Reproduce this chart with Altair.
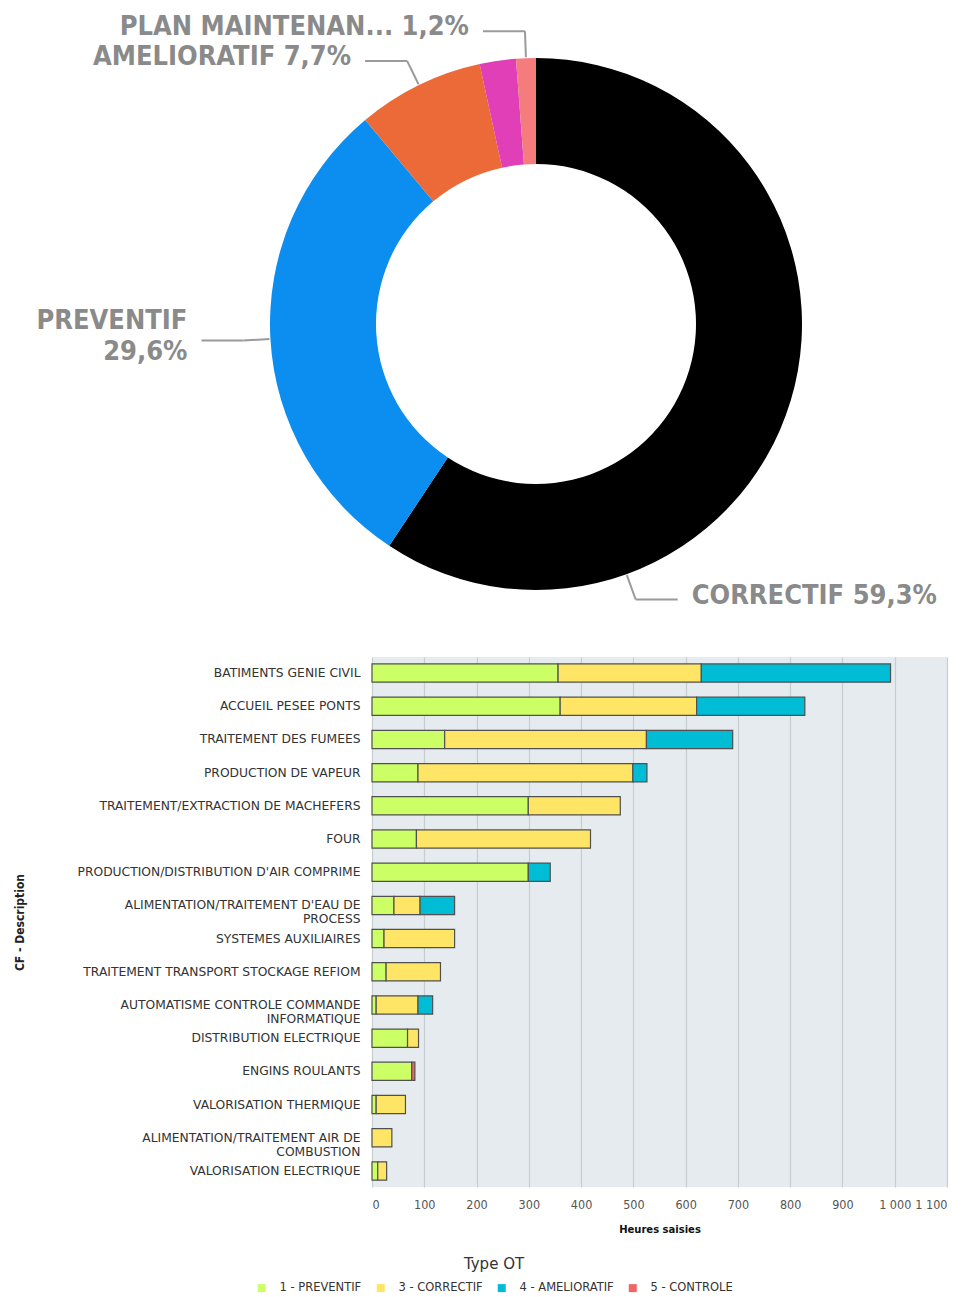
import math
import json
import pandas as pd
import altair as alt

# ---------------- Donut data ----------------
donut_types = ["CORRECTIF", "PREVENTIF", "AMELIORATIF", "CONTROLE", "PLAN MAINTENANCE"]
donut_display = ["CORRECTIF", "PREVENTIF", "AMELIORATIF", "", "PLAN MAINTENAN..."]
donut_pct = [59.3, 29.6, 7.7, 2.2, 1.2]
donut_colors = ["#000000", "#0b8ef0", "#ec6a37", "#e03fb8", "#f47c7c"]

# ---------------- Bar data ----------------
categories = [
    "BATIMENTS GENIE CIVIL",
    "ACCUEIL PESEE PONTS",
    "TRAITEMENT DES FUMEES",
    "PRODUCTION DE VAPEUR",
    "TRAITEMENT/EXTRACTION DE MACHEFERS",
    "FOUR",
    "PRODUCTION/DISTRIBUTION D'AIR COMPRIME",
    "ALIMENTATION/TRAITEMENT D'EAU DE PROCESS",
    "SYSTEMES AUXILIAIRES",
    "TRAITEMENT TRANSPORT STOCKAGE REFIOM",
    "AUTOMATISME CONTROLE COMMANDE INFORMATIQUE",
    "DISTRIBUTION ELECTRIQUE",
    "ENGINS ROULANTS",
    "VALORISATION THERMIQUE",
    "ALIMENTATION/TRAITEMENT AIR DE COMBUSTION",
    "VALORISATION ELECTRIQUE",
]
preventif   = [356, 360, 139, 88, 299, 85, 299, 42, 23, 27, 8, 68, 76, 8, 0, 11]
correctif   = [274, 261, 386, 411, 176, 333, 0, 50, 135, 104, 80, 21, 0, 56, 38, 17]
amelioratif = [362, 207, 165, 27, 0, 0, 42, 66, 0, 0, 28, 0, 0, 0, 0, 0]
controle    = [0, 0, 0, 0, 0, 0, 0, 0, 0, 0, 0, 0, 6, 0, 0, 0]
type_labels = ["1 - PREVENTIF", "3 - CORRECTIF", "4 - AMELIORATIF", "5 - CONTROLE"]
bar_colors = ["#ccff66", "#ffe566", "#00bcd4", "#f26464"]
x_ticks = [0, 100, 200, 300, 400, 500, 600, 700, 800, 900, 1000, 1100]

# wrapped y labels
wrapped = {
    "ALIMENTATION/TRAITEMENT D'EAU DE PROCESS": ["ALIMENTATION/TRAITEMENT D'EAU DE", "PROCESS"],
    "AUTOMATISME CONTROLE COMMANDE INFORMATIQUE": ["AUTOMATISME CONTROLE COMMANDE", "INFORMATIQUE"],
    "ALIMENTATION/TRAITEMENT AIR DE COMBUSTION": ["ALIMENTATION/TRAITEMENT AIR DE", "COMBUSTION"],
}

# ---------------- layout constants ----------------
CX, CY = 164, 311          # donut centre inside its panel
R_OUT, R_IN = 266, 160
R0, R1, LEAD, GAP = 267, 293, 42, 14
LINE_H = 31
label_anchor = [0.75, 0.5, 0.5, 0.5, 0.5]   # fraction along the slice where the connector starts
label_break = [False, True, False, False, False]
LABEL_FONT = "DejaVu Sans Condensed, Liberation Sans Narrow, DejaVu Sans, sans-serif"

# ---------------- donut frames ----------------
total = sum(donut_pct)
rows = []
start = 0.0
for i, (t, d, p) in enumerate(zip(donut_types, donut_display, donut_pct)):
    a = 2 * math.pi * (start + label_anchor[i] * p) / total
    start += p
    s, c = math.sin(a), math.cos(a)
    x0, y0 = CX + R0 * s, CY - R0 * c
    x1, y1 = CX + R1 * s, CY - R1 * c
    side = 1 if s >= 0 else -1
    x2 = x1 + side * LEAD
    pct_txt = f"{p:.1f}%".replace(".", ",")
    text = d + ("\n" if label_break[i] else " ") + pct_txt
    nlines = 2 if label_break[i] else 1
    rows.append(dict(type=t, idx=i, pct=p, label=text, show=bool(d),
                     x0=x0, y0=y0, x1=x1, y1=y1, x2=x2, y2=y1,
                     tx=x2 + side * GAP, ty=y1 - 4 - (nlines - 1) * LINE_H / 2,
                     side="R" if side > 0 else "L"))
ddf = pd.DataFrame(rows)

arc = alt.Chart(ddf).mark_arc(radius=R_OUT, radius2=R_IN).encode(
    theta=alt.Theta("pct:Q", stack=True),
    order=alt.Order("idx:Q"),
    color=alt.Color("type:N", scale=alt.Scale(domain=donut_types, range=donut_colors), legend=None),
    x=alt.value(CX), y=alt.value(CY),
)

lab = alt.Chart(ddf).transform_filter("datum.show")
seg1 = lab.mark_rule(color="#9a9a9a", strokeWidth=2).encode(
    x=alt.X("x0:Q", scale=None), y=alt.Y("y0:Q", scale=None),
    x2="x1:Q", y2="y1:Q")
seg2 = lab.mark_rule(color="#9a9a9a", strokeWidth=2).encode(
    x=alt.X("x1:Q", scale=None), y=alt.Y("y1:Q", scale=None),
    x2="x2:Q", y2="y2:Q")
txt_style = dict(baseline="middle", font=LABEL_FONT, fontSize=27, fontWeight="bold",
                 color="#8a8a8a", lineBreak="\n", lineHeight=LINE_H)
txt_r = lab.transform_filter("datum.side == 'R'").mark_text(align="left", **txt_style).encode(
    x=alt.X("tx:Q", scale=None), y=alt.Y("ty:Q", scale=None), text="label:N")
txt_l = lab.transform_filter("datum.side == 'L'").mark_text(align="right", **txt_style).encode(
    x=alt.X("tx:Q", scale=None), y=alt.Y("ty:Q", scale=None), text="label:N")

donut = alt.layer(arc, seg1, seg2, txt_r, txt_l).properties(width=575, height=628)

# ---------------- bar frame ----------------
brows = []
for ci, cat in enumerate(categories):
    for ti, vals in enumerate([preventif, correctif, amelioratif, controle]):
        if vals[ci] > 0:
            brows.append(dict(cf=cat, type=type_labels[ti], tidx=ti, hours=vals[ci]))
bdf = pd.DataFrame(brows)

label_expr = ""
for k, v in wrapped.items():
    label_expr += f"datum.value == {json.dumps(k)} ? {json.dumps(v)} : "
label_expr += "datum.label"

bars = alt.Chart(bdf).mark_bar(stroke="#505050", strokeWidth=1.2).encode(
    y=alt.Y("cf:N", sort=categories, title="CF - Description",
            scale=alt.Scale(paddingInner=0.45, paddingOuter=0.21),
            axis=alt.Axis(labelExpr=label_expr, labelFont="DejaVu Sans", labelFontSize=12.3,
                          labelColor="#333333", labelLimit=400, labelPadding=12,
                          ticks=False, domain=False, grid=False,
                          titleFont=LABEL_FONT, titleFontSize=12, titleFontWeight="bold",
                          titleColor="#222222", titleX=-346, labelLineHeight=14)),
    x=alt.X("hours:Q", title="Heures saisies",
            scale=alt.Scale(domain=[0, 1100], nice=False),
            axis=alt.Axis(values=x_ticks, labelExpr="replace(format(datum.value, ','), ',', ' ')",
                          labelFont=LABEL_FONT, labelFontSize=12.5, labelColor="#555555",
                          labelPadding=11, ticks=False, domain=False,
                          gridColor="#c6ced2", gridWidth=1.2,
                          titleFont="DejaVu Sans", titleFontSize=10, titleFontWeight="bold",
                          titleColor="#111111", titlePadding=14)),
    color=alt.Color("type:N", title="Type OT",
                    scale=alt.Scale(domain=type_labels, range=bar_colors),
                    legend=alt.Legend(orient="none", direction="horizontal",
                                      legendX=-116, legendY=600,
                                      titleAnchor="middle", titleFontSize=15, titleFontWeight="normal",
                                      titleColor="#333333", titleFont="DejaVu Sans",
                                      labelFontSize=11.5, labelColor="#333333",
                                      labelFont="DejaVu Sans",
                                      symbolType="square", symbolSize=64, symbolStrokeWidth=0,
                                      columnPadding=13, labelOffset=12, titlePadding=10)),
    order=alt.Order("tidx:Q"),
).properties(width=575, height=530,
             view=alt.ViewBackground(fill="#e5ebee", stroke="transparent"))

chart = alt.vconcat(donut, bars, spacing=16).resolve_scale(color="independent").configure(
    font="DejaVu Sans").configure_view(stroke="transparent", strokeWidth=0)

chart.save("out.html", embed_options={"renderer": "svg", "actions": False})
